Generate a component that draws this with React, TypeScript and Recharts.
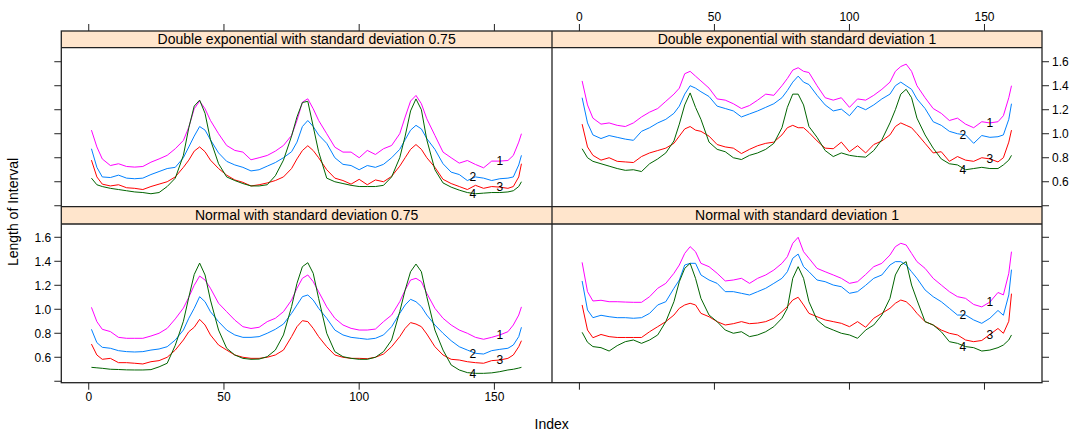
import React from "react";
import { LineChart, Line, XAxis, YAxis, ReferenceDot } from "recharts";

// index positions the curves were read at
const IDX = [1, 3, 5, 8, 11, 14, 17, 20, 23, 26, 29, 32, 35, 37, 39, 41, 43, 45, 48, 51, 54, 57, 60, 63, 66, 69, 72, 75, 77, 79, 81, 83, 85, 88, 91, 94, 97, 100, 103, 106, 109, 112, 115, 117, 119, 121, 123, 125, 128, 131, 134, 137, 140, 143, 146, 149, 152, 155, 157, 159, 160];

// Double exponential, sd 0.75
const de075_1 = [1.03, 0.89, 0.79, 0.735, 0.75, 0.727, 0.722, 0.727, 0.763, 0.79, 0.82, 0.875, 0.944, 1.055, 1.208, 1.272, 1.208, 1.111, 1.0, 0.902, 0.861, 0.847, 0.783, 0.8, 0.819, 0.855, 0.902, 0.986, 1.111, 1.263, 1.291, 1.208, 1.111, 1.0, 0.888, 0.847, 0.847, 0.8, 0.861, 0.827, 0.875, 0.902, 1.0, 1.139, 1.272, 1.319, 1.25, 1.125, 0.986, 0.847, 0.8, 0.755, 0.777, 0.744, 0.716, 0.772, 0.772, 0.777, 0.819, 0.93, 1.0];
const de075_2 = [0.875, 0.72, 0.64, 0.635, 0.655, 0.63, 0.625, 0.63, 0.66, 0.685, 0.71, 0.72, 0.8, 0.89, 0.98, 1.06, 1.03, 0.95, 0.84, 0.77, 0.74, 0.72, 0.69, 0.7, 0.73, 0.76, 0.8, 0.85, 0.93, 1.06, 1.11, 1.06, 0.99, 0.92, 0.8, 0.745, 0.735, 0.7, 0.735, 0.72, 0.745, 0.8, 0.87, 0.95, 1.03, 1.07, 1.04, 0.96, 0.87, 0.75, 0.68, 0.66, 0.61, 0.64, 0.63, 0.61, 0.625, 0.63, 0.64, 0.74, 0.82];
const de075_3 = [0.78, 0.64, 0.58, 0.565, 0.575, 0.55, 0.545, 0.535, 0.56, 0.58, 0.6, 0.64, 0.72, 0.78, 0.855, 0.89, 0.85, 0.78, 0.71, 0.655, 0.615, 0.595, 0.565, 0.575, 0.59, 0.61, 0.64, 0.71, 0.79, 0.86, 0.9, 0.86, 0.8, 0.7, 0.63, 0.61, 0.58, 0.62, 0.575, 0.615, 0.6, 0.645, 0.73, 0.8, 0.87, 0.91, 0.87, 0.8, 0.72, 0.62, 0.585, 0.56, 0.535, 0.57, 0.545, 0.56, 0.555, 0.545, 0.56, 0.64, 0.75];
const de075_4 = [0.63, 0.575, 0.56, 0.545, 0.535, 0.525, 0.515, 0.51, 0.5, 0.51, 0.56, 0.63, 0.82, 1.05, 1.23, 1.28, 1.17, 0.95, 0.75, 0.64, 0.61, 0.585, 0.565, 0.565, 0.575, 0.65, 0.78, 0.98, 1.14, 1.26, 1.27, 1.06, 0.85, 0.63, 0.6, 0.585, 0.57, 0.56, 0.56, 0.56, 0.57, 0.64, 0.8, 0.98, 1.19, 1.29, 1.2, 0.95, 0.7, 0.59, 0.555, 0.53, 0.51, 0.5, 0.505, 0.51, 0.51, 0.515, 0.525, 0.56, 0.6];

// Double exponential, sd 1
const de1_1 = [1.44, 1.24, 1.13, 1.08, 1.09, 1.07, 1.06, 1.09, 1.14, 1.18, 1.21, 1.27, 1.33, 1.38, 1.5, 1.52, 1.48, 1.44, 1.38, 1.29, 1.28, 1.25, 1.21, 1.235, 1.28, 1.33, 1.32, 1.4, 1.46, 1.53, 1.55, 1.52, 1.51, 1.4, 1.3, 1.28, 1.3, 1.22, 1.29, 1.28, 1.32, 1.37, 1.43, 1.52, 1.56, 1.58, 1.52, 1.4, 1.3, 1.21, 1.17, 1.11, 1.13, 1.08, 1.05, 1.1, 1.09, 1.1, 1.15, 1.3, 1.4];
const de1_2 = [1.3, 1.09, 0.99, 0.96, 0.985, 0.97, 0.955, 0.945, 1.02, 1.05, 1.09, 1.12, 1.17, 1.23, 1.33, 1.4, 1.38, 1.35, 1.31, 1.23, 1.21, 1.19, 1.14, 1.165, 1.19, 1.22, 1.25, 1.3, 1.36, 1.43, 1.48, 1.43, 1.41, 1.32, 1.24, 1.19, 1.205, 1.15, 1.23, 1.2, 1.24, 1.29, 1.33, 1.4, 1.43, 1.4, 1.37, 1.29, 1.21, 1.1, 1.07, 1.02, 1.0, 0.99, 0.92, 0.985, 0.97, 0.975, 0.99, 1.12, 1.25];
const de1_3 = [1.08, 0.89, 0.82, 0.78, 0.8, 0.77, 0.765, 0.76, 0.81, 0.84, 0.86, 0.88, 0.92, 0.98, 1.04, 1.06, 1.03, 1.02, 0.98, 0.91, 0.89, 0.88, 0.835, 0.87, 0.9, 0.92, 0.93, 0.99, 1.05, 1.07, 1.05, 1.05, 1.01, 0.94, 0.88, 0.875, 0.93, 0.85, 0.9, 0.84, 0.91, 0.94, 0.99, 1.06, 1.09, 1.07, 1.05, 1.0, 0.92, 0.84, 0.85, 0.77, 0.81, 0.78, 0.77, 0.8, 0.79, 0.765, 0.8, 0.93, 1.03];
const de1_4 = [0.875, 0.8, 0.77, 0.75, 0.73, 0.71, 0.695, 0.7, 0.685, 0.75, 0.79, 0.84, 0.94, 1.08, 1.24, 1.34, 1.22, 1.12, 0.93, 0.87, 0.85, 0.8, 0.785, 0.82, 0.84, 0.87, 0.92, 1.05, 1.22, 1.33, 1.33, 1.24, 1.06, 0.97, 0.86, 0.81, 0.84, 0.82, 0.81, 0.805, 0.86, 0.95, 1.09, 1.2, 1.33, 1.37, 1.3, 1.13, 0.99, 0.88, 0.79, 0.75, 0.74, 0.7, 0.71, 0.72, 0.71, 0.71, 0.74, 0.78, 0.82];

// Normal, sd 0.75
const n075_1 = [1.016, 0.897, 0.833, 0.814, 0.766, 0.758, 0.758, 0.758, 0.777, 0.8, 0.841, 0.92, 1.01, 1.1, 1.2, 1.277, 1.244, 1.175, 1.05, 0.98, 0.91, 0.855, 0.84, 0.85, 0.897, 0.925, 0.98, 1.077, 1.175, 1.258, 1.286, 1.23, 1.147, 1.02, 0.925, 0.869, 0.841, 0.827, 0.827, 0.835, 0.897, 0.952, 1.063, 1.16, 1.244, 1.258, 1.23, 1.133, 1.008, 0.925, 0.869, 0.827, 0.8, 0.766, 0.75, 0.766, 0.786, 0.813, 0.869, 0.952, 1.02];
const n075_2 = [0.833, 0.722, 0.683, 0.675, 0.655, 0.647, 0.644, 0.647, 0.66, 0.669, 0.688, 0.744, 0.827, 0.925, 1.008, 1.105, 1.063, 0.98, 0.897, 0.827, 0.786, 0.766, 0.766, 0.772, 0.8, 0.833, 0.877, 0.966, 1.036, 1.105, 1.119, 1.077, 1.008, 0.925, 0.827, 0.786, 0.766, 0.758, 0.75, 0.758, 0.786, 0.855, 0.966, 1.036, 1.083, 1.063, 1.022, 0.952, 0.869, 0.8, 0.738, 0.688, 0.66, 0.633, 0.627, 0.655, 0.666, 0.675, 0.702, 0.772, 0.85];
const n075_3 = [0.71, 0.619, 0.583, 0.591, 0.555, 0.555, 0.55, 0.544, 0.563, 0.572, 0.6, 0.66, 0.744, 0.813, 0.85, 0.916, 0.869, 0.786, 0.702, 0.66, 0.619, 0.6, 0.591, 0.591, 0.6, 0.619, 0.66, 0.772, 0.855, 0.905, 0.897, 0.841, 0.772, 0.688, 0.619, 0.6, 0.591, 0.591, 0.588, 0.6, 0.627, 0.688, 0.772, 0.841, 0.889, 0.877, 0.855, 0.794, 0.688, 0.619, 0.583, 0.577, 0.563, 0.555, 0.55, 0.572, 0.577, 0.591, 0.619, 0.688, 0.738];
const n075_4 = [0.516, 0.512, 0.508, 0.5, 0.498, 0.495, 0.494, 0.494, 0.497, 0.52, 0.55, 0.7, 0.9, 1.1, 1.29, 1.385, 1.286, 1.077, 0.827, 0.675, 0.619, 0.591, 0.583, 0.585, 0.605, 0.66, 0.786, 1.022, 1.216, 1.355, 1.388, 1.3, 1.091, 0.8, 0.647, 0.605, 0.591, 0.583, 0.583, 0.6, 0.647, 0.744, 0.98, 1.16, 1.313, 1.377, 1.313, 1.105, 0.827, 0.66, 0.536, 0.494, 0.472, 0.466, 0.466, 0.47, 0.48, 0.494, 0.5, 0.51, 0.516];

// Normal, sd 1
const n1_1 = [1.391, 1.147, 1.069, 1.075, 1.063, 1.063, 1.06, 1.058, 1.058, 1.105, 1.175, 1.216, 1.3, 1.369, 1.466, 1.522, 1.48, 1.383, 1.355, 1.3, 1.236, 1.244, 1.258, 1.216, 1.258, 1.286, 1.327, 1.383, 1.438, 1.55, 1.6, 1.48, 1.425, 1.341, 1.313, 1.286, 1.258, 1.216, 1.23, 1.29, 1.355, 1.383, 1.452, 1.522, 1.55, 1.536, 1.466, 1.397, 1.341, 1.258, 1.202, 1.147, 1.105, 1.091, 1.04, 1.02, 1.06, 1.14, 1.12, 1.3, 1.48];
const n1_2 = [1.236, 0.994, 0.93, 0.95, 0.938, 0.93, 0.93, 0.925, 0.93, 0.966, 1.036, 1.063, 1.175, 1.244, 1.369, 1.383, 1.383, 1.286, 1.244, 1.216, 1.147, 1.147, 1.133, 1.119, 1.147, 1.175, 1.216, 1.258, 1.313, 1.425, 1.46, 1.355, 1.313, 1.244, 1.23, 1.202, 1.188, 1.133, 1.147, 1.2, 1.258, 1.286, 1.369, 1.397, 1.397, 1.369, 1.313, 1.258, 1.161, 1.105, 1.063, 1.008, 0.952, 0.952, 0.911, 0.883, 0.925, 0.99, 0.95, 1.12, 1.33];
const n1_3 = [1.036, 0.827, 0.763, 0.79, 0.772, 0.765, 0.765, 0.765, 0.765, 0.813, 0.855, 0.897, 0.952, 1.008, 1.036, 1.05, 1.036, 0.966, 0.938, 0.897, 0.869, 0.88, 0.897, 0.88, 0.885, 0.897, 0.925, 0.98, 1.022, 1.077, 1.1, 1.036, 0.966, 0.938, 0.911, 0.897, 0.883, 0.855, 0.897, 0.85, 0.925, 0.966, 1.008, 1.05, 1.077, 1.063, 1.022, 0.966, 0.897, 0.869, 0.827, 0.8, 0.786, 0.744, 0.73, 0.74, 0.79, 0.84, 0.8, 0.9, 1.13];
const n1_4 = [0.808, 0.725, 0.689, 0.68, 0.652, 0.697, 0.73, 0.744, 0.716, 0.744, 0.786, 0.897, 1.063, 1.23, 1.341, 1.383, 1.258, 1.091, 0.952, 0.897, 0.827, 0.8, 0.813, 0.772, 0.786, 0.813, 0.855, 0.925, 1.008, 1.258, 1.355, 1.258, 1.063, 0.911, 0.855, 0.827, 0.8, 0.786, 0.758, 0.827, 0.869, 0.952, 1.091, 1.286, 1.369, 1.397, 1.202, 1.077, 0.897, 0.869, 0.813, 0.73, 0.716, 0.689, 0.68, 0.652, 0.66, 0.68, 0.702, 0.744, 0.786];

const SERIES_NAMES = ["1", "2", "3", "4"];
const SERIES_COLORS = ["#ff00ff", "#0080ff", "#ff0000", "#006400"];
const LABEL_X = [152, 142, 152, 142];
const X_TICKS = [0, 50, 100, 150];
const Y_TICKS = [0.4, 0.6, 0.8, 1.0, 1.2, 1.4, 1.6];

const W = 1081;
const H = 435;
const COLS = [
  [61.3, 552],
  [552, 1042],
];
const ROWS = [
  [31, 206.7],
  [206.7, 382.7],
];
const STRIP_BOTTOM = [47.7, 224];
const X_DOMAIN: [number, number] = [-10.15, 171.3];
// y range covers the strip too, so the data area lines up under it
const Y_DOMAINS: [number, number][] = [
  [0.392, 1.856],
  [0.388, 1.855],
];
const FONT = '"Liberation Sans", Arial, Helvetica, sans-serif';
const INK = "#222";

const panels = [
  { title: "Double exponential with standard deviation 0.75", row: 0, col: 0, series: [de075_1, de075_2, de075_3, de075_4] },
  { title: "Double exponential with standard deviation 1", row: 0, col: 1, series: [de1_1, de1_2, de1_3, de1_4] },
  { title: "Normal with standard deviation 0.75", row: 1, col: 0, series: [n075_1, n075_2, n075_3, n075_4] },
  { title: "Normal with standard deviation 1", row: 1, col: 1, series: [n1_1, n1_2, n1_3, n1_4] },
];

const valueAt = (values: number[], x: number) => {
  let best = 0;
  IDX.forEach((v, i) => {
    if (Math.abs(v - x) < Math.abs(IDX[best] - x)) best = i;
  });
  return values[best];
};

type PanelProps = { row: number; col: number; series: number[][] };

const Panel = ({ row, col, series }: PanelProps) => {
  const data = IDX.map((x, i) => ({
    x,
    s0: series[0][i],
    s1: series[1][i],
    s2: series[2][i],
    s3: series[3][i],
  }));
  const [x0, x1] = COLS[col];
  const [y0, y1] = ROWS[row];
  const yAxisW = col === 0 ? 40 : 35;
  const xAxisH = row === 0 ? 24 : 30;
  const margin = {
    left: col === 0 ? x0 - yAxisW : x0,
    right: col === 0 ? W - x1 : W - x1 - yAxisW,
    top: row === 0 ? y0 - xAxisH : y0,
    bottom: row === 0 ? H - y1 : H - y1 - xAxisH,
  };
  const showX = (row === 0 && col === 1) || (row === 1 && col === 0);
  const showY = (row === 0 && col === 1) || (row === 1 && col === 0);

  return (
    <div style={{ position: "absolute", left: 0, top: 0 }}>
      <LineChart width={W} height={H} data={data} margin={margin}>
        <XAxis
          type="number"
          dataKey="x"
          domain={X_DOMAIN}
          ticks={X_TICKS}
          interval={0}
          allowDataOverflow
          orientation={row === 0 ? "top" : "bottom"}
          height={xAxisH}
          axisLine={false}
          tickSize={7}
          tickMargin={3}
          tickLine={{ stroke: INK }}
          tick={{ fill: "#000", fontSize: 12 }}
          tickFormatter={(v: number) => (showX ? String(v) : "")}
        />
        <YAxis
          type="number"
          domain={Y_DOMAINS[row]}
          ticks={Y_TICKS}
          interval={0}
          allowDataOverflow
          orientation={col === 0 ? "left" : "right"}
          width={yAxisW}
          axisLine={false}
          tickSize={7}
          tickMargin={3}
          tickLine={{ stroke: INK }}
          tick={{ fill: "#000", fontSize: 12 }}
          tickFormatter={(v: number) => (showY && v > 0.5 ? v.toFixed(1) : "")}
        />
        {SERIES_NAMES.map((name, i) => (
          <Line
            key={name}
            type="linear"
            dataKey={`s${i}`}
            stroke={SERIES_COLORS[i]}
            strokeWidth={1}
            dot={false}
            activeDot={false}
            isAnimationActive={false}
          />
        ))}
        {SERIES_NAMES.map((name, i) => (
          <ReferenceDot
            key={`lab${name}`}
            x={LABEL_X[i]}
            y={valueAt(series[i], LABEL_X[i])}
            r={1}
            fill="none"
            stroke="none"
            ifOverflow="visible"
            label={{ value: name, position: "center", fill: "#000", fontSize: 12 }}
          />
        ))}
      </LineChart>
    </div>
  );
};

const App = () => {
  const [left, mid] = COLS[0];
  const right = COLS[1][1];
  return (
    <div
      style={{
        position: "absolute",
        left: 0,
        top: 0,
        width: W,
        height: H,
        background: "#fff",
        fontFamily: FONT,
      }}
    >
      {panels.map((p) => (
        <Panel key={p.title} row={p.row} col={p.col} series={p.series} />
      ))}
      <svg width={W} height={H} style={{ position: "absolute", left: 0, top: 0, pointerEvents: "none" }}>
        {ROWS.map(([top], r) => (
          <rect key={`strip${r}`} x={left} y={top} width={right - left} height={STRIP_BOTTOM[r] - top} fill="#ffe5cc" />
        ))}
        {panels.map((p) => (
          <text
            key={`t${p.title}`}
            x={(COLS[p.col][0] + COLS[p.col][1]) / 2}
            y={(ROWS[p.row][0] + STRIP_BOTTOM[p.row]) / 2}
            textAnchor="middle"
            dominantBaseline="central"
            fontSize={14}
            fontFamily={FONT}
            fill="#000"
          >
            {p.title}
          </text>
        ))}
        <g stroke={INK} strokeWidth={1.3} fill="none">
          <rect x={left} y={ROWS[0][0]} width={right - left} height={ROWS[1][1] - ROWS[0][0]} />
          <line x1={mid} x2={mid} y1={ROWS[0][0]} y2={ROWS[1][1]} />
          <line x1={left} x2={right} y1={ROWS[1][0]} y2={ROWS[1][0]} />
          {STRIP_BOTTOM.map((y) => (
            <line key={`sb${y}`} x1={left} x2={right} y1={y} y2={y} />
          ))}
        </g>
        <text
          x={(left + right) / 2}
          y={424}
          textAnchor="middle"
          dominantBaseline="central"
          fontSize={14}
          fontFamily={FONT}
          fill="#000"
        >
          Index
        </text>
        <text
          transform="translate(13,212) rotate(-90)"
          textAnchor="middle"
          dominantBaseline="central"
          fontSize={14}
          fontFamily={FONT}
          fill="#000"
        >
          Length of Interval
        </text>
      </svg>
    </div>
  );
};

export default App;
